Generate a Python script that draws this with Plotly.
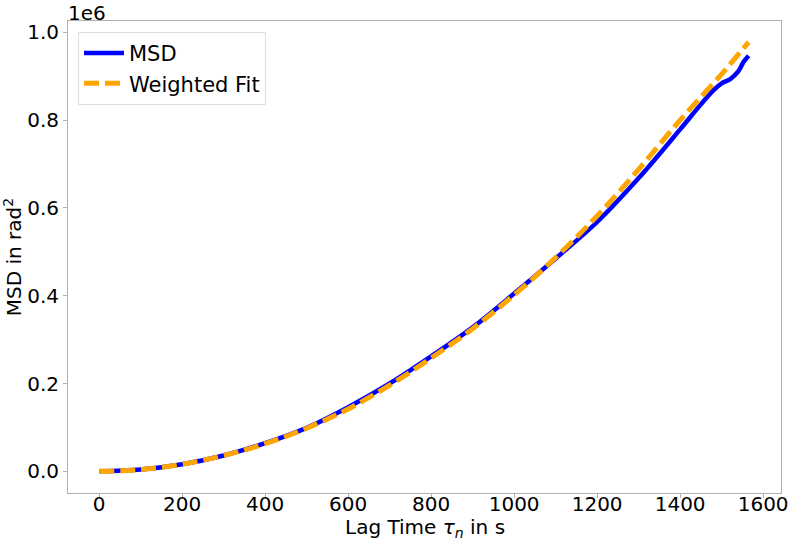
import plotly.graph_objects as go

# MSD data (lag time in s, MSD in units of 1e6 rad^2)
msd_t = [0, 100, 200, 300, 400, 500, 600, 700, 800, 900, 1000, 1100, 1200,
         1300, 1400, 1450, 1480, 1500, 1520, 1540, 1553, 1565]
msd_v = [0.000, 0.004, 0.016, 0.036, 0.064, 0.099, 0.146, 0.200, 0.262, 0.328,
         0.405, 0.485, 0.568, 0.668, 0.779, 0.836, 0.868, 0.884, 0.893, 0.911,
         0.933, 0.947]

# Weighted fit
fit_t = [0, 100, 200, 300, 400, 500, 600, 700, 800, 900, 1000, 1100, 1200,
         1300, 1400, 1500, 1565]
fit_v = [0.000, 0.004, 0.016, 0.036, 0.063, 0.098, 0.142, 0.196, 0.258, 0.325,
         0.402, 0.487, 0.582, 0.688, 0.800, 0.905, 0.978]

x_ticks = [0, 200, 400, 600, 800, 1000, 1200, 1400, 1600]
y_ticks = [0.0, 0.2, 0.4, 0.6, 0.8, 1.0]
y_ticklabels = ["0.0", "0.2", "0.4", "0.6", "0.8", "1.0"]

FONT = "DejaVu Sans"
SPINE = "#b0b0b0"

fig = go.Figure()
fig.add_trace(go.Scatter(x=msd_t, y=msd_v, mode="lines", name="MSD",
                         line=dict(color="#0000ff", width=4.5, shape="spline")))
fig.add_trace(go.Scatter(x=fit_t, y=fit_v, mode="lines", name="Weighted Fit",
                         line=dict(color="#ffa500", width=5, dash="15px,6px",
                                   shape="spline")))

fig.update_layout(
    width=789, height=545,
    margin=dict(l=68, r=8, t=21, b=52, autoexpand=False),
    paper_bgcolor="white", plot_bgcolor="white",
    font=dict(family=FONT, size=20, color="black"),
    showlegend=True,
    legend=dict(x=0.014, y=0.977, xanchor="left", yanchor="top",
                bordercolor="#dddddd", borderwidth=1, bgcolor="rgba(255,255,255,0.8)",
                font=dict(family=FONT, size=21), itemwidth=40),
    xaxis=dict(range=[-75, 1643], tickvals=x_ticks, showgrid=False, zeroline=False,
               automargin=False,
               showline=True, linecolor=SPINE, linewidth=1, mirror=True,
               ticks="outside", ticklen=4, tickcolor=SPINE,
               ticklabelstandoff=-11,
               tickfont=dict(family=FONT, size=20)),
    yaxis=dict(range=[-0.0495, 1.026], tickvals=y_ticks, ticktext=y_ticklabels,
               showgrid=False, zeroline=False, automargin=False,
               showline=True, linecolor=SPINE, linewidth=1, mirror=True,
               ticks="outside", ticklen=4, tickcolor=SPINE,
               tickfont=dict(family=FONT, size=20),
               title=dict(text="MSD in rad<sup>2</sup>",
                          font=dict(family=FONT, size=20))),
)

fig.add_annotation(text="Lag Time <i>τ<sub>n</sub></i> in s", xref="paper", yref="paper",
                   x=0.5, y=0, xanchor="center", yanchor="top", showarrow=False,
                   font=dict(family=FONT, size=20), yshift=-20)

fig.add_annotation(text="1e6", xref="paper", yref="paper", x=0, y=1,
                   xanchor="left", yanchor="bottom", showarrow=False,
                   font=dict(family=FONT, size=20), xshift=-2, yshift=-6)

fig.write_html("out.html", config={"displayModeBar": False},
               post_script="document.body.style.margin='0';document.body.style.overflow='hidden';")
